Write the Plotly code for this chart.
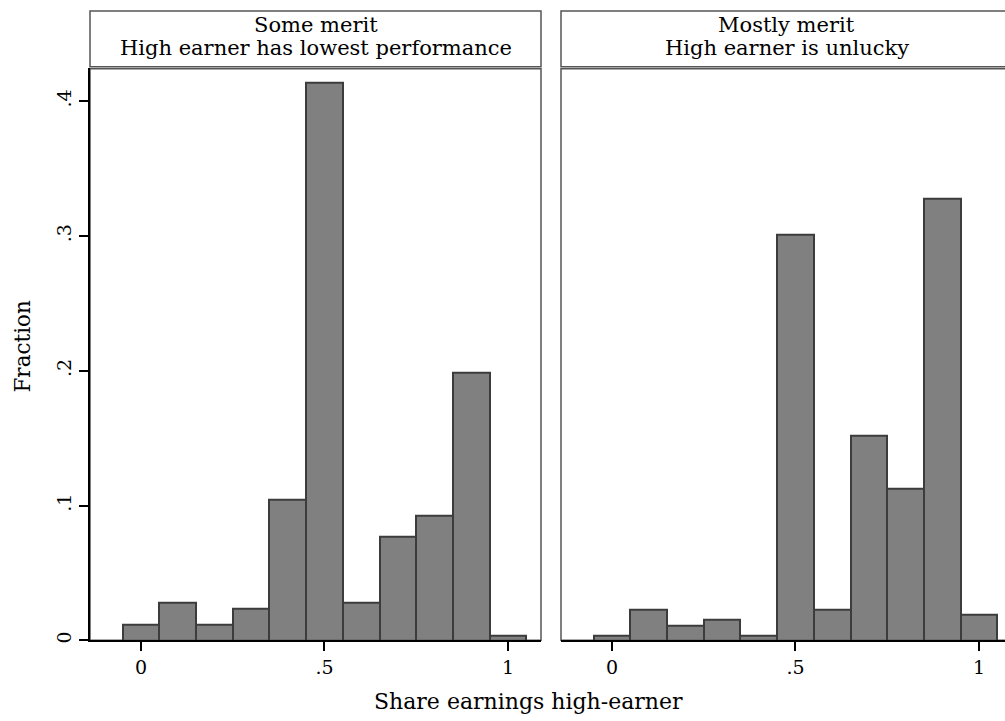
import plotly.graph_objects as go

# Histogram bins (bin centres, width 0.1) and fractions per panel
bin_centers = [0.0, 0.1, 0.2, 0.3, 0.4, 0.5, 0.6, 0.7, 0.8, 0.9, 1.0]
some_merit_low_perf = [0.0115, 0.0280, 0.0115, 0.0231, 0.1046, 0.4137, 0.0280,
                       0.0767, 0.0928, 0.1985, 0.0035]
mostly_merit_unlucky = [0.0034, 0.0226, 0.0108, 0.0152, 0.0034, 0.3007, 0.0226,
                        0.1521, 0.1127, 0.3280, 0.0188]

panel_titles = [("Some merit", "High earner has lowest performance"),
                ("Mostly merit", "High earner is unlucky")]
x_tickvals = [0, 0.5, 1]
x_ticktext = ["0", ".5", "1"]
y_tickvals = [0, 0.1, 0.2, 0.3, 0.4]
y_ticktext = ["0", ".1", ".2", ".3", ".4"]

W, H = 1005, 721
FONT = "DejaVu Serif"
FILL = "#808080"
EDGE = "#3c3c3c"
BOX = "#555555"


def px_x(p):
    return p / W


def px_y(p):
    return (H - p) / H


left_dom = [px_x(90), px_x(541)]
right_dom = [px_x(561), 1.0]
y_dom = [px_y(643), px_y(68)]

fig = go.Figure()
for vals, xa, ya in [(some_merit_low_perf, "x", "y"), (mostly_merit_unlucky, "x2", "y2")]:
    fig.add_trace(go.Bar(
        x=bin_centers, y=vals, width=[0.1] * len(bin_centers),
        marker=dict(color=FILL, line=dict(color=EDGE, width=2)),
        xaxis=xa, yaxis=ya, showlegend=False, hoverinfo="skip",
    ))

xcommon = dict(tickvals=x_tickvals, ticktext=x_ticktext, ticks="outside", ticklen=9,
               tickwidth=1.5, tickcolor="black", showline=True, linecolor="black",
               linewidth=1.5, showgrid=False, zeroline=False,
               tickfont=dict(family=FONT, size=19, color="black"))
fig.update_layout(
    width=W, height=H, autosize=False,
    margin=dict(l=0, r=0, t=0, b=0),
    paper_bgcolor="white", plot_bgcolor="white",
    bargap=0,
    xaxis=dict(domain=left_dom, range=[-0.139, 1.090], anchor="y", **xcommon),
    xaxis2=dict(domain=right_dom, range=[-0.139, 1.071], anchor="y2", **xcommon),
    yaxis=dict(domain=y_dom, range=[0, 0.425], anchor="x",
               tickvals=y_tickvals, ticktext=y_ticktext, tickangle=-90,
               ticks="outside", ticklen=9, tickwidth=1.5, tickcolor="black",
               showline=True, linecolor="black", linewidth=2,
               showgrid=False, zeroline=False,
               tickfont=dict(family=FONT, size=19, color="black")),
    yaxis2=dict(domain=y_dom, range=[0, 0.425], anchor="x2",
                showticklabels=False, ticks="", showline=False,
                showgrid=False, zeroline=False),
)

shapes = []
annotations = []
# Plot-region frames and panel header boxes
for (x0, x1, cx), (line1, line2) in zip([(90, 541, 315.5), (561, 1012, 786.5)], panel_titles):
    shapes.append(dict(type="rect", xref="paper", yref="paper",
                       x0=px_x(x0), x1=px_x(x1), y0=px_y(643), y1=px_y(69),
                       line=dict(color=BOX, width=1.5), layer="below"))
    shapes.append(dict(type="rect", xref="paper", yref="paper",
                       x0=px_x(x0), x1=px_x(x1), y0=px_y(67), y1=px_y(11),
                       line=dict(color=BOX, width=1.5), fillcolor="white"))
    annotations.append(dict(text=line1, x=px_x(cx), y=px_y(25), xref="paper", yref="paper",
                            showarrow=False, xanchor="center", yanchor="middle",
                            font=dict(family=FONT, size=21, color="black")))
    annotations.append(dict(text=line2, x=px_x(cx), y=px_y(48), xref="paper", yref="paper",
                            showarrow=False, xanchor="center", yanchor="middle",
                            font=dict(family=FONT, size=21, color="black")))

annotations.append(dict(text="Fraction", x=px_x(23), y=px_y(348), xref="paper", yref="paper",
                        showarrow=False, textangle=-90, xanchor="center", yanchor="middle",
                        font=dict(family=FONT, size=21.5, color="black")))
annotations.append(dict(text="Share earnings high-earner", x=px_x(528), y=px_y(704),
                        xref="paper", yref="paper", showarrow=False,
                        xanchor="center", yanchor="middle",
                        font=dict(family=FONT, size=22, color="black")))

fig.update_layout(shapes=shapes, annotations=annotations)
fig.write_html("out.html")
